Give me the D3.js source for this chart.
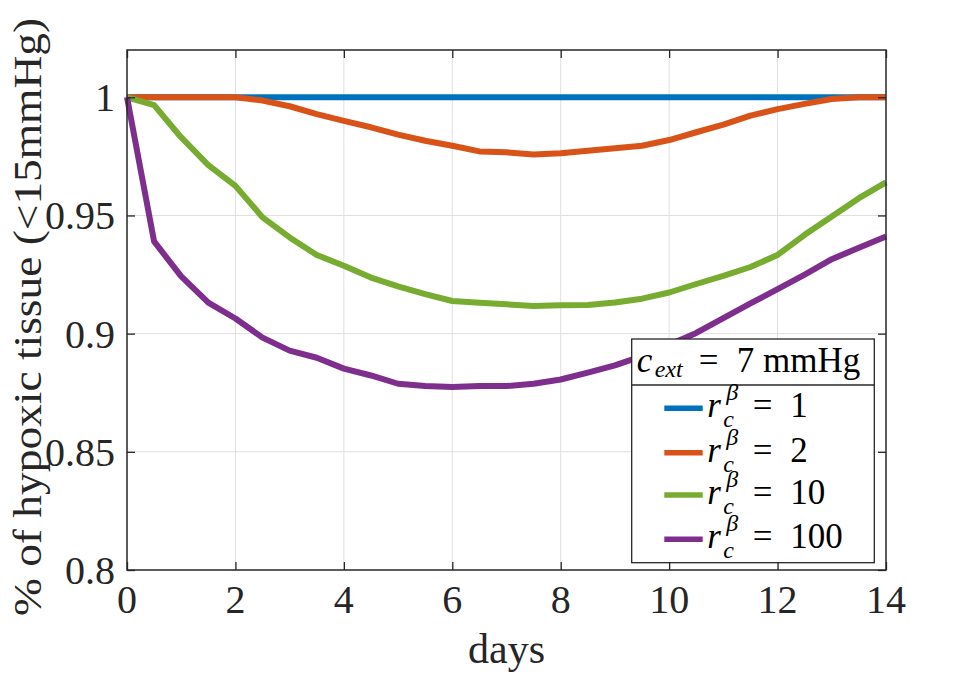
<!DOCTYPE html>
<html>
<head>
<meta charset="utf-8">
<script src="https://d3js.org/d3.v7.min.js"></script>
<style>
  body { margin: 0; background: #fff; }
</style>
</head>
<body>
<script>
// values
var days = [0, 0.5, 1, 1.5, 2, 2.5, 3, 3.5, 4, 4.5, 5, 5.5, 6, 6.5, 7, 7.5,
            8, 8.5, 9, 9.5, 10, 10.5, 11, 11.5, 12, 12.5, 13, 13.5, 14];
var r1 = [1, 1, 1, 1, 1, 1, 1, 1, 1, 1, 1, 1, 1, 1, 1, 1,
          1, 1, 1, 1, 1, 1, 1, 1, 1, 1, 1, 1, 1];
var r2 = [1, 1, 1, 1, 1, 0.9986, 0.9962, 0.9929, 0.990, 0.9873, 0.9842, 0.9816, 0.9795, 0.9771, 0.9767, 0.9758,
          0.9763, 0.9774, 0.9784, 0.9795, 0.9819, 0.9852, 0.9884, 0.9922, 0.995, 0.9972, 0.9993, 1, 1];
var r10 = [1, 0.9967, 0.983, 0.9713, 0.9625, 0.9492, 0.9407, 0.9333, 0.9287, 0.9237, 0.920, 0.9167, 0.9138, 0.9131, 0.9124, 0.9117,
           0.912, 0.9121, 0.9132, 0.9148, 0.9174, 0.921, 0.9244, 0.9282, 0.9333, 0.9418, 0.9496, 0.9573, 0.964];
var r100 = [1, 0.939, 0.9242, 0.9131, 0.9064, 0.8983, 0.8928, 0.8898, 0.8852, 0.8823, 0.8788, 0.8778, 0.8774, 0.8778, 0.8778, 0.8788,
            0.8806, 0.8835, 0.8866, 0.8905, 0.8953, 0.9003, 0.9066, 0.9128, 0.9188, 0.925, 0.9315, 0.9363, 0.9411];

var seriesNames = ["1", "2", "10", "100"];
var seriesColors = ["#0072BD", "#D95319", "#77AC30", "#7E2F8E"];
var xTicks = [0, 2, 4, 6, 8, 10, 12, 14];
var yTicks = [0.8, 0.85, 0.9, 0.95, 1];
var yTickLabels = ["0.8", "0.85", "0.9", "0.95", "1"];
var legendTitle = "7 mmHg";

var serif = "'Liberation Serif', 'DejaVu Serif', 'Times New Roman', Times, serif";

var margin = {top: 50, right: 94, bottom: 113, left: 127}
  , width = 980 - margin.left - margin.right
  , height = 683 - margin.top - margin.bottom;

var svg = d3.select("body").append("svg")
    .attr("width", 980)
    .attr("height", 683)
    .attr("font-family", serif)
    .style("font-family", serif)
    .append("g")
    .attr("transform", "translate(" + margin.left + "," + margin.top + ")");

var x = d3.scaleLinear().domain([0, 14]).range([0, width]);
var y = d3.scaleLinear().domain([0.8, 1.02]).range([height, 0]);

// grid
svg.selectAll(".vgrid")
    .data(xTicks.filter(function (d) { return d > 0 && d < 14; }))
    .enter().append("line")
    .attr("x1", function (d) { return x(d); })
    .attr("x2", function (d) { return x(d); })
    .attr("y1", 0).attr("y2", height)
    .attr("stroke", "#dfdfdf").attr("stroke-width", 1);
svg.selectAll(".hgrid")
    .data(yTicks.filter(function (d) { return d > 0.8; }))
    .enter().append("line")
    .attr("y1", function (d) { return y(d); })
    .attr("y2", function (d) { return y(d); })
    .attr("x1", 0).attr("x2", width)
    .attr("stroke", "#dfdfdf").attr("stroke-width", 1);

// lines
var allSeries = [r1, r2, r10, r100];
var line = d3.line()
    .x(function (d, i) { return x(days[i]); })
    .y(function (d) { return y(d); });

svg.selectAll(".series")
    .data(allSeries)
    .enter().append("path")
    .attr("class", "series")
    .attr("d", line)
    .attr("fill", "none")
    .attr("stroke", function (d, i) { return seriesColors[i]; })
    .attr("stroke-width", 6)
    .attr("stroke-linejoin", "round");

// axes with inward ticks on all sides
var tickLen = 8;
var axisColor = "#262626";
function styleAxis(g) {
    g.select(".domain").remove();
    g.selectAll(".tick line").attr("stroke", axisColor).attr("stroke-width", 1.3);
    g.selectAll(".tick text").remove();
}
svg.append("g").attr("transform", "translate(0," + height + ")")
    .call(d3.axisBottom(x).tickValues(xTicks).tickSize(-tickLen)).call(styleAxis);
svg.append("g")
    .call(d3.axisTop(x).tickValues(xTicks).tickSize(-tickLen)).call(styleAxis);
svg.append("g")
    .call(d3.axisLeft(y).tickValues(yTicks).tickSize(-tickLen)).call(styleAxis);
svg.append("g").attr("transform", "translate(" + width + ",0)")
    .call(d3.axisRight(y).tickValues(yTicks).tickSize(-tickLen)).call(styleAxis);

svg.append("rect")
    .attr("width", width).attr("height", height)
    .attr("fill", "none").attr("stroke", axisColor).attr("stroke-width", 1.5);

// tick labels
svg.selectAll(".xlab")
    .data(xTicks)
    .enter().append("text")
    .attr("x", function (d) { return x(d); })
    .attr("y", height + 43)
    .attr("text-anchor", "middle")
    .attr("font-size", 40)
    .attr("fill", axisColor)
    .text(function (d) { return d; });

svg.selectAll(".ylab")
    .data(yTicks)
    .enter().append("text")
    .attr("x", -12)
    .attr("y", function (d) { return y(d) + 14; })
    .attr("text-anchor", "end")
    .attr("font-size", 40)
    .attr("fill", axisColor)
    .text(function (d, i) { return yTickLabels[i]; });

// axis labels
svg.append("text")
    .attr("x", width / 2)
    .attr("y", height + 93)
    .attr("text-anchor", "middle")
    .attr("font-size", 42)
    .attr("fill", axisColor)
    .text("days");

svg.append("text")
    .attr("transform", "translate(" + (41 - margin.left) + "," + (height / 2 + 7) + ") rotate(-90)")
    .attr("text-anchor", "middle")
    .attr("font-size", 40)
    .attr("fill", axisColor)
    .attr("textLength", 598)
    .attr("lengthAdjust", "spacingAndGlyphs")
    .text("% of hypoxic tissue (<15mmHg)");

// legend
var lgX = 631.7 - margin.left, lgY = 339 - margin.top, lgW = 242.6, lgH = 223.7, lgTitleH = 46;
var fs = 35, fsSmall = 24;
var legend = svg.append("g").attr("transform", "translate(" + lgX + "," + lgY + ")");
legend.append("rect")
    .attr("width", lgW).attr("height", lgH)
    .attr("fill", "#fff").attr("stroke", axisColor).attr("stroke-width", 1.3);
legend.append("line")
    .attr("x1", 0).attr("x2", lgW)
    .attr("y1", lgTitleH).attr("y2", lgTitleH)
    .attr("stroke", axisColor).attr("stroke-width", 1.3);

var tb = 33;
var title = legend.append("text").attr("font-size", fs).attr("fill", "#000");
title.append("tspan").attr("x", 5).attr("y", tb).style("font-style", "italic").text("c");
title.append("tspan").attr("x", 23).attr("y", tb + 5).attr("font-size", fsSmall)
    .style("font-style", "italic").text("ext");
title.append("tspan").attr("x", 67).attr("y", tb).text("=");
title.append("tspan").attr("x", 105).attr("y", tb).text(legendTitle);

var rowY = [69.3, 113.7, 156, 200.3];
var entries = legend.selectAll(".entry")
    .data(seriesNames)
    .enter().append("g")
    .attr("transform", function (d, i) { return "translate(0," + rowY[i] + ")"; });

entries.append("line")
    .attr("x1", 32.6).attr("x2", 71)
    .attr("stroke", function (d, i) { return seriesColors[i]; })
    .attr("stroke-width", 5.5);

var lbl = entries.append("text").attr("font-size", fs).attr("fill", "#000");
lbl.append("tspan").attr("x", 75.5).attr("y", 9).style("font-style", "italic").text("r");
lbl.append("tspan").attr("x", 94.5).attr("y", -8).attr("font-size", fsSmall)
    .style("font-style", "italic").text("β");
lbl.append("tspan").attr("x", 91.5).attr("y", 19).attr("font-size", fsSmall)
    .style("font-style", "italic").text("c");
lbl.append("tspan").attr("x", 121).attr("y", 9).text("=");
lbl.append("tspan").attr("x", 158.5).attr("y", 9).text(function (d) { return d; });
</script>
</body>
</html>
